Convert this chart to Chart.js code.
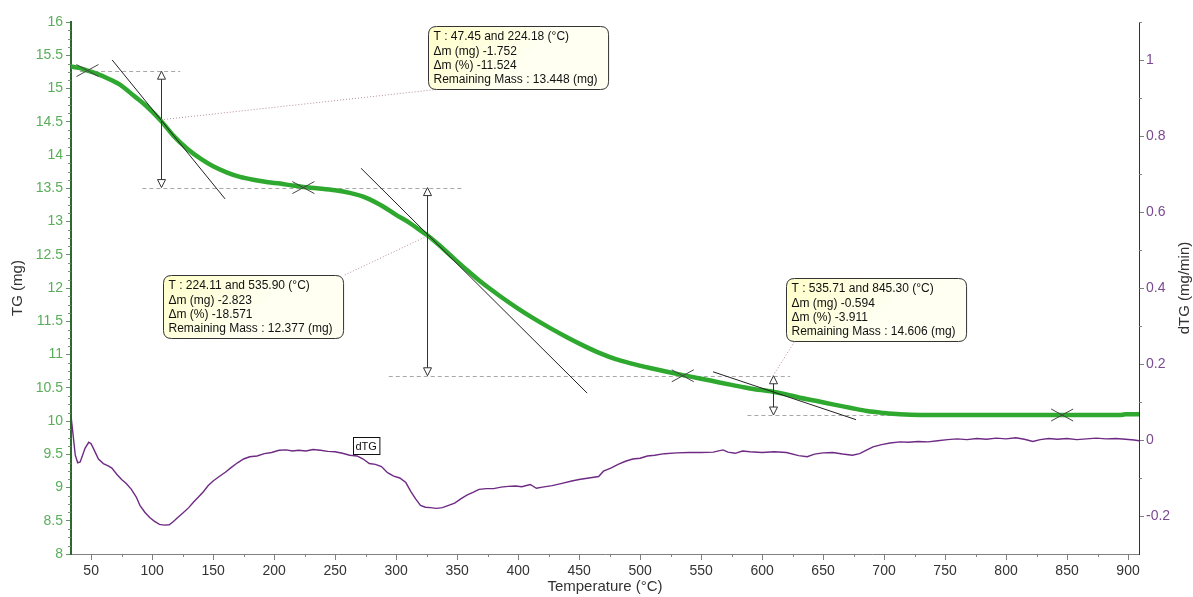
<!DOCTYPE html>
<html>
<head>
<meta charset="utf-8">
<script src="https://cdn.jsdelivr.net/npm/chart.js@4.4.1/dist/chart.umd.min.js"></script>
<style>
  html, body { margin: 0; padding: 0; background: #fff; }
</style>
</head>
<body>
<canvas id="tgChart" width="1193" height="597"></canvas>
<script>
// TG curve (mg) vs temperature (°C)
const tgTemp = [33.6, 40, 47, 55, 65, 75, 85, 95, 107, 118, 129, 140, 150, 161, 172, 185, 195, 205, 215, 224,
  235, 250, 262, 275, 289, 300, 311, 318, 325, 335, 344, 358, 371, 385, 400, 412, 426, 440, 454, 467,
  480, 494, 510, 522, 535, 549, 565, 576, 590, 609, 620, 631, 645, 658, 672, 686, 700, 713, 730, 746,
  780, 820, 845, 870, 893, 898, 909];
const tgMass = [15.33, 15.31, 15.27, 15.22, 15.14, 15.04, 14.89, 14.74, 14.52, 14.28, 14.09, 13.94, 13.83, 13.74, 13.67, 13.62, 13.59, 13.57, 13.54, 13.52,
  13.50, 13.47, 13.43, 13.36, 13.23, 13.10, 12.98, 12.89, 12.80, 12.65, 12.50, 12.27, 12.07, 11.88, 11.69, 11.55, 11.40, 11.26, 11.13, 11.02,
  10.93, 10.86, 10.79, 10.74, 10.69, 10.64, 10.58, 10.54, 10.49, 10.44, 10.40, 10.35, 10.30, 10.25, 10.20, 10.15, 10.12, 10.10, 10.09, 10.09,
  10.09, 10.09, 10.09, 10.09, 10.09, 10.10, 10.10];

// dTG curve (mg/min)
const dtgTemp = [33.6, 35, 37, 39, 41, 43, 45, 48, 50, 53, 56, 60, 64, 67, 71, 75, 79, 83, 87, 90,
  94, 98, 102, 106, 110, 114, 117, 121, 125, 130, 134, 138, 142, 146, 150, 155, 160, 165, 170, 175,
  180, 186, 192, 198, 204, 210, 215, 220, 226, 232, 238, 244, 250, 256, 262, 268, 273, 278, 283, 288,
  293, 298, 303, 308, 312, 316, 320, 324, 328, 333, 338, 343, 348, 353, 358, 363, 368, 374, 380, 386,
  392, 398, 403, 410, 415, 420, 428, 436, 444, 450, 458, 466, 470, 476, 482, 488, 494, 500, 506, 512,
  520, 530, 540, 550, 560, 568, 572, 578, 584, 590, 600, 610, 620, 630, 637, 643, 650, 658, 666, 674,
  680, 686, 691, 698, 705, 713, 720, 728, 736, 744, 752, 760, 768, 776, 784, 792, 800, 808, 815, 822,
  828, 835, 842, 850, 858, 866, 874, 882, 890, 898, 905, 909];
const dtgRate = [0.06, 0.02, -0.04, -0.06, -0.058, -0.04, -0.022, -0.006, -0.01, -0.03, -0.05, -0.062, -0.068, -0.074, -0.09, -0.104, -0.115, -0.13, -0.15, -0.172,
  -0.19, -0.204, -0.214, -0.222, -0.224, -0.223, -0.216, -0.204, -0.193, -0.178, -0.163, -0.15, -0.136, -0.12, -0.108, -0.096, -0.085, -0.072, -0.06, -0.05,
  -0.044, -0.042, -0.036, -0.033, -0.027, -0.026, -0.029, -0.027, -0.029, -0.025, -0.027, -0.03, -0.031, -0.035, -0.04, -0.042, -0.05, -0.062, -0.064, -0.07,
  -0.086, -0.095, -0.1, -0.112, -0.135, -0.155, -0.172, -0.177, -0.178, -0.18, -0.178, -0.172, -0.166, -0.155, -0.145, -0.138, -0.13, -0.128, -0.128, -0.124,
  -0.122, -0.121, -0.123, -0.117, -0.127, -0.124, -0.12, -0.114, -0.108, -0.104, -0.1, -0.096, -0.082, -0.074, -0.064, -0.056, -0.05, -0.048, -0.042, -0.04,
  -0.036, -0.034, -0.033, -0.033, -0.032, -0.026, -0.032, -0.035, -0.029, -0.031, -0.033, -0.031, -0.033, -0.041, -0.044, -0.037, -0.034, -0.033, -0.037, -0.04,
  -0.036, -0.026, -0.018, -0.012, -0.008, -0.005, -0.006, -0.004, -0.005, -0.002, 0.001, 0.003, 0.001, 0.004, 0.002, 0.005, 0.003, 0.006, 0.002, -0.004,
  0.001, 0.004, 0.002, 0.004, 0.001, 0.003, 0.005, 0.003, 0.004, 0.002, 0.0, -0.002];

// tick labels
const tempTicks = [50, 100, 150, 200, 250, 300, 350, 400, 450, 500, 550, 600, 650, 700, 750, 800, 850, 900];
const tgTicks = [8, 8.5, 9, 9.5, 10, 10.5, 11, 11.5, 12, 12.5, 13, 13.5, 14, 14.5, 15, 15.5, 16];
const dtgTicks = [-0.2, 0, 0.2, 0.4, 0.6, 0.8, 1];

// mass loss steps
const stepRange = ["47.45 and 224.18", "224.11 and 535.90", "535.71 and 845.30"];
const stepLossMg = ["-1.752", "-2.823", "-0.594"];
const stepLossPct = ["-11.524", "-18.571", "-3.911"];
const stepRemaining = ["13.448", "12.377", "14.606"];
const stepArrowT = [107.4, 325.4, 609];
const stepTop = [15.26, 13.51, 10.68];
const stepBottom = [13.51, 10.68, 10.09];
const tangentStart = [[67.2, 15.43], [271.3, 13.8], [559.8, 10.74]];
const tangentEnd = [[159.8, 13.34], [456.6, 10.42], [677, 10.02]];
const leaderFrom = [[107.4, 14.53], [325.4, 12.78], [609, 10.68]];
const dashLevel = [15.26, 13.51, 10.68, 10.09];
const dashFrom = [41, 92, 294, 588];
const dashTo = [123, 355, 623, 845];
const onsetT = [47, 224, 535, 846];
const onsetTG = [15.27, 13.51, 10.68, 10.09];

// where the callouts sit (data units of x / TG axis)
const boxAnchorT = [326.2, 109, 619.7];
const boxAnchorTG = [15.94, 12.195, 12.15];
const boxLeaderCorner = ["bl", "tr", "bl"];

const FONT = "Liberation Sans, Arial, sans-serif";

const drawTriangle = (ctx, px, py, dir) => {
  ctx.beginPath();
  ctx.moveTo(px, py);
  ctx.lineTo(px - 4, py + dir * 8);
  ctx.lineTo(px + 4, py + dir * 8);
  ctx.closePath();
  ctx.fillStyle = "#fff";
  ctx.fill();
  ctx.stroke();
};

const roundRect = (ctx, bx, by, w, h, r) => {
  ctx.beginPath();
  ctx.moveTo(bx + r, by);
  ctx.lineTo(bx + w - r, by);
  ctx.quadraticCurveTo(bx + w, by, bx + w, by + r);
  ctx.lineTo(bx + w, by + h - r);
  ctx.quadraticCurveTo(bx + w, by + h, bx + w - r, by + h);
  ctx.lineTo(bx + r, by + h);
  ctx.quadraticCurveTo(bx, by + h, bx, by + h - r);
  ctx.lineTo(bx, by + r);
  ctx.quadraticCurveTo(bx, by, bx + r, by);
  ctx.closePath();
};

const tgAnnotations = {
  id: "tgAnnotations",
  beforeDatasetsDraw(chart) {
    const { ctx, scales: { x, y } } = chart;
    ctx.save();
    ctx.strokeStyle = "#a8a8a8";
    ctx.lineWidth = 1;
    ctx.setLineDash([4, 3]);
    dashLevel.forEach((lvl, i) => {
      const py = Math.round(y.getPixelForValue(lvl)) + 0.5;
      ctx.beginPath();
      ctx.moveTo(x.getPixelForValue(dashFrom[i]), py);
      ctx.lineTo(x.getPixelForValue(dashTo[i]), py);
      ctx.stroke();
    });
    ctx.restore();
  },
  afterDatasetsDraw(chart) {
    const { ctx, scales: { x, y, y1 } } = chart;
    ctx.save();

    // tangents
    ctx.strokeStyle = "#222";
    ctx.lineWidth = 1;
    tangentStart.forEach((p, i) => {
      ctx.beginPath();
      ctx.moveTo(x.getPixelForValue(p[0]), y.getPixelForValue(p[1]));
      ctx.lineTo(x.getPixelForValue(tangentEnd[i][0]), y.getPixelForValue(tangentEnd[i][1]));
      ctx.stroke();
    });

    // onset crosses
    ctx.strokeStyle = "#444";
    onsetT.forEach((t, i) => {
      const px = x.getPixelForValue(t), py = y.getPixelForValue(onsetTG[i]);
      ctx.beginPath();
      ctx.moveTo(px - 11, py - 6); ctx.lineTo(px + 11, py + 6);
      ctx.moveTo(px - 11, py + 6); ctx.lineTo(px + 11, py - 6);
      ctx.stroke();
    });

    // double arrows
    ctx.strokeStyle = "#333";
    stepArrowT.forEach((t, i) => {
      const px = Math.round(x.getPixelForValue(t)) + 0.5;
      const top = y.getPixelForValue(stepTop[i]), bot = y.getPixelForValue(stepBottom[i]);
      ctx.beginPath();
      ctx.moveTo(px, top + 6);
      ctx.lineTo(px, bot - 6);
      ctx.stroke();
      drawTriangle(ctx, px, top, 1);
      drawTriangle(ctx, px, bot, -1);
    });

    // callout boxes with dotted leaders
    ctx.font = "12px " + FONT;
    stepRange.forEach((r, i) => {
      const lines = [
        "T : " + r + " (°C)",
        "Δm (mg) " + stepLossMg[i],
        "Δm (%) " + stepLossPct[i],
        "Remaining Mass : " + stepRemaining[i] + " (mg)"
      ];
      const bx = Math.round(x.getPixelForValue(boxAnchorT[i])) + 0.5;
      const by = Math.round(y.getPixelForValue(boxAnchorTG[i])) + 0.5;
      const w = Math.max(...lines.map(l => ctx.measureText(l).width)) + 16;
      const h = 63;

      const cx = boxLeaderCorner[i] === "bl" ? bx + 8 : bx + w;
      const cy = boxLeaderCorner[i] === "bl" ? by + h : by;
      ctx.strokeStyle = "#b48c9c";
      ctx.setLineDash([1, 2]);
      ctx.beginPath();
      ctx.moveTo(x.getPixelForValue(leaderFrom[i][0]), y.getPixelForValue(leaderFrom[i][1]));
      ctx.lineTo(cx, cy);
      ctx.stroke();
      ctx.setLineDash([]);

      const grad = ctx.createLinearGradient(bx, by, bx + w * 0.4, by + h);
      grad.addColorStop(0, "#ffffc8");
      grad.addColorStop(1, "#fffff2");
      roundRect(ctx, bx, by, w, h, 8);
      ctx.fillStyle = grad;
      ctx.fill();
      ctx.strokeStyle = "#333";
      ctx.stroke();

      ctx.fillStyle = "#111";
      ctx.textAlign = "left";
      ctx.textBaseline = "middle";
      lines.forEach((l, k) => ctx.fillText(l, bx + 5, by + 10.5 + k * 14.3));
    });

    // dTG label
    const lx = Math.round(x.getPixelForValue(264.8)) + 0.5;
    const ly = Math.round(y1.getPixelForValue(0.008)) + 0.5;
    ctx.font = "11px " + FONT;
    const lw = ctx.measureText("dTG").width + 5;
    ctx.fillStyle = "#fff";
    ctx.fillRect(lx, ly, lw, 17);
    ctx.strokeStyle = "#111";
    ctx.strokeRect(lx, ly, lw, 17);
    ctx.fillStyle = "#111";
    ctx.textBaseline = "middle";
    ctx.fillText("dTG", lx + 2, ly + 9);

    ctx.restore();
  },
  afterDraw(chart) {
    const { ctx, chartArea: a, scales: { x, y, y1 } } = chart;
    ctx.save();
    ctx.lineWidth = 1;

    // minor ticks
    ctx.strokeStyle = "#6d8f6d";
    for (let v = 8; v <= 16; v += 0.125) {
      if (Math.abs(v * 2 - Math.round(v * 2)) < 1e-6) continue;
      const py = Math.round(y.getPixelForValue(v)) + 0.5;
      ctx.beginPath(); ctx.moveTo(a.left - 3, py); ctx.lineTo(a.left, py); ctx.stroke();
    }
    ctx.strokeStyle = "#808080";
    for (let v = 75; v < 909; v += 50) {
      const px = Math.round(x.getPixelForValue(v)) + 0.5;
      ctx.beginPath(); ctx.moveTo(px, a.bottom); ctx.lineTo(px, a.bottom + 3); ctx.stroke();
    }
    for (let v = -0.1; v < 1.1; v += 0.2) {
      const py = Math.round(y1.getPixelForValue(v)) + 0.5;
      ctx.beginPath(); ctx.moveTo(a.right, py); ctx.lineTo(a.right + 3, py); ctx.stroke();
    }

    // axis titles
    ctx.fillStyle = "#333";
    ctx.font = "15px " + FONT;
    ctx.textAlign = "center";
    ctx.textBaseline = "middle";
    ctx.fillText("Temperature (°C)", (a.left + a.right) / 2, 587);
    const midY = (a.top + a.bottom) / 2;
    [[18, "TG (mg)"], [1185, "dTG (mg/min)"]].forEach(([tx, label]) => {
      ctx.save();
      ctx.translate(tx, midY);
      ctx.rotate(-Math.PI / 2);
      ctx.fillText(label, 0, 0);
      ctx.restore();
    });
    ctx.restore();
  }
};

const fmt = v => String(Math.round(v * 100) / 100);

new Chart(document.getElementById("tgChart").getContext("2d"), {
  type: "line",
  data: {
    datasets: [
      {
        label: "TG",
        data: tgTemp.map((t, i) => ({ x: t, y: tgMass[i] })),
        yAxisID: "y",
        borderColor: "#2ea82e",
        borderWidth: 4.5,
        pointRadius: 0,
        cubicInterpolationMode: "monotone",
        order: 1,
      },
      {
        label: "dTG",
        data: dtgTemp.map((t, i) => ({ x: t, y: dtgRate[i] })),
        yAxisID: "y1",
        borderColor: "#6e2a84",
        borderWidth: 1.4,
        pointRadius: 0,
        tension: 0,
        order: 2,
      },
    ],
  },
  options: {
    responsive: false,
    animation: false,
    devicePixelRatio: 1,
    layout: { padding: { top: 22, left: 0, right: 0, bottom: 0 } },
    plugins: {
      legend: { display: false },
      tooltip: { enabled: false },
    },
    scales: {
      x: {
        type: "linear",
        min: 33.5,
        max: 909,
        afterBuildTicks: s => { s.ticks = tempTicks.map(v => ({ value: v })); },
        afterFit: s => { s.height = 43; },
        border: { display: true, color: "#808080", width: 1 },
        grid: { display: true, drawOnChartArea: false, tickLength: 6, color: "#808080" },
        ticks: { color: "#333", font: { size: 14, family: FONT }, padding: 3, maxRotation: 0, autoSkip: false },
      },
      y: {
        position: "left",
        min: 8,
        max: 16,
        afterBuildTicks: s => { s.ticks = tgTicks.map(v => ({ value: v })); },
        afterFit: s => { s.width = 71; },
        border: { display: true, color: "#2c6a2c", width: 2 },
        grid: { display: true, drawOnChartArea: false, tickLength: 5, color: "#6d8f6d" },
        ticks: { color: "#5aad5a", font: { size: 14, family: FONT }, padding: 3, callback: fmt },
      },
      y1: {
        position: "right",
        min: -0.3,
        max: 1.1,
        afterBuildTicks: s => { s.ticks = dtgTicks.map(v => ({ value: v })); },
        afterFit: s => { s.width = 54; },
        border: { display: true, color: "#333", width: 1 },
        grid: { display: true, drawOnChartArea: false, tickLength: 5, color: "#808080" },
        ticks: { color: "#7a4a90", font: { size: 14, family: FONT }, padding: 2, callback: fmt },
      },
    },
  },
  plugins: [tgAnnotations],
});
</script>
</body>
</html>
